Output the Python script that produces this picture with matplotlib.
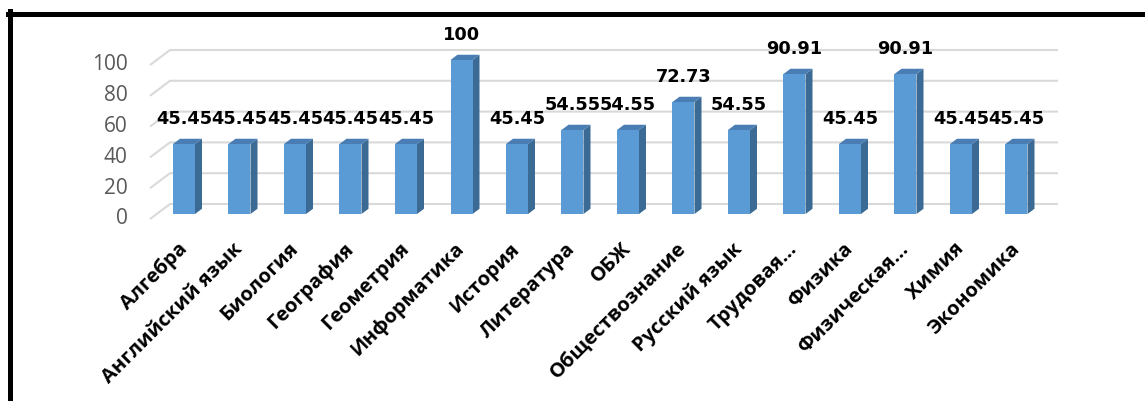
import matplotlib
matplotlib.use("Agg")
import matplotlib.pyplot as plt
from matplotlib.patches import Polygon
from matplotlib.lines import Line2D

subjects = ["Алгебра", "Английский язык", "Биология", "География", "Геометрия",
            "Информатика", "История", "Литература", "ОБЖ", "Обществознание",
            "Русский язык", "Трудовая...", "Физика", "Физическая...", "Химия",
            "Экономика"]
values = [45.45, 45.45, 45.45, 45.45, 45.45, 100, 45.45, 54.55, 54.55, 72.73,
          54.55, 90.91, 45.45, 90.91, 45.45, 45.45]
yticks = [0, 20, 40, 60, 80, 100]

plt.rcParams['font.family'] = ['Open Sans', 'DejaVu Sans']

W, H = 1145, 401
fig = plt.figure(figsize=(W / 100, H / 100), dpi=100)
ax = fig.add_axes([0, 0, 1, 1])
ax.axis('off')

# pixel geometry of the 3d box
px_x, px_v = 55.5, 1.54          # px per category / px per unit
x0_px, v0_px = 184, 214          # first bar centre, bar-front zero line
ax.set_xlim(-x0_px / px_x, (W - x0_px) / px_x)
ax.set_ylim((v0_px - H) / px_v, v0_px / px_v)

DX, DY = 20 / px_x, 15 / px_v    # full floor depth in data units


def proj(x, v, t):
    return (x + DX * t, v + DY * t)


T_FRONT, T_BACK = -1 / 3, 2 / 3
xl = (150 - x0_px) / px_x - DX * T_FRONT
xr = (1058 - x0_px) / px_x - DX * T_BACK

grid_c = '#D9D9D9'
for v in yticks:
    a = proj(xl, v, T_FRONT)
    b = proj(xl, v, T_BACK)
    c = proj(xr, v, T_BACK)
    ax.plot([a[0], b[0], c[0]], [a[1], b[1], c[1]], color=grid_c, lw=1.5,
            zorder=1, solid_capstyle='butt')
    ax.annotate(str(v), a, xytext=(-16, 0), textcoords='offset points',
                ha='right', va='center', fontsize=15, color='#595959')

xs = list(range(len(values)))
w = 22 / px_x
tb = 0.35
front_c, side_c, top_c = '#5B9BD5', '#3B6A94', '#4A7DB3'
ax.bar(xs, values, width=w, color=front_c, zorder=3)
for x, v in zip(xs, values):
    r, l = x + w / 2, x - w / 2
    side = [(r, 0), (r, v), proj(r, v, tb), proj(r, 0, tb)]
    top = [(l, v), (r, v), proj(r, v, tb), proj(l, v, tb)]
    ax.add_patch(Polygon(side, closed=True, facecolor=side_c, edgecolor='none', zorder=2))
    ax.add_patch(Polygon(top, closed=True, facecolor=top_c, edgecolor='none', zorder=2))
    lab = f"{v:g}"
    ax.annotate(lab, (x, v), xytext=(0, 18), textcoords='offset points',
                ha='center', va='center', fontsize=12.8, fontweight='bold',
                family='DejaVu Sans', color='black', zorder=5)

for x, s in zip(xs, subjects):
    ax.annotate(s, (x, 0), xytext=(-5, -18), textcoords='offset points',
                ha='right', va='top', rotation=45, rotation_mode='anchor',
                fontsize=14.5, fontweight='bold', color='black')

# outer frame (only top and left visible)
fig.add_artist(Line2D([8 / W, 1.01], [1 - 13.5 / H, 1 - 13.5 / H],
                      color='black', lw=3.6, transform=fig.transFigure))
fig.add_artist(Line2D([10.5 / W, 10.5 / W], [-0.01, 1 - 11 / H],
                      color='black', lw=3.6, transform=fig.transFigure))

fig.savefig("out.png", dpi=100)
